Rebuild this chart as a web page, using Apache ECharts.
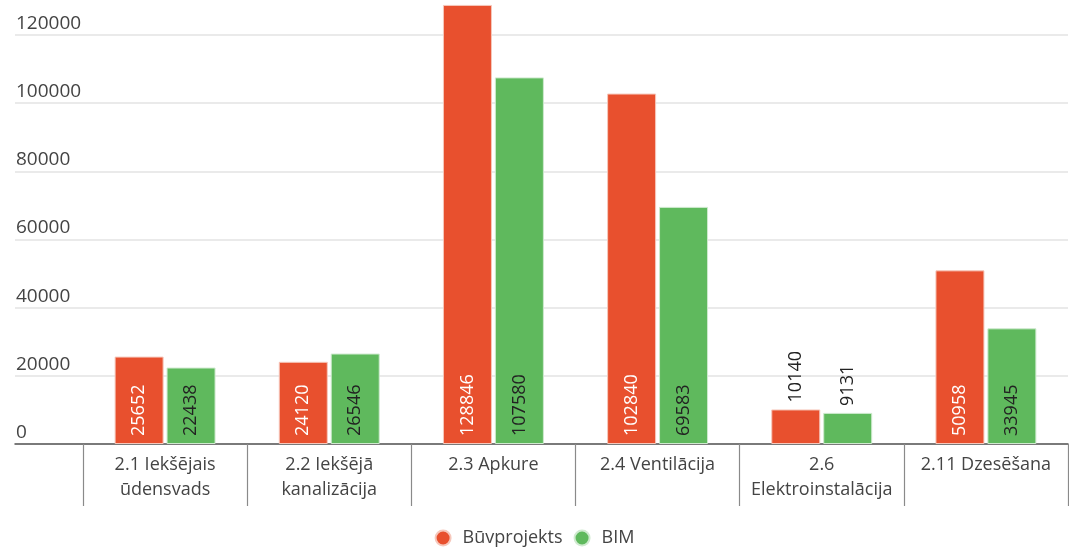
<!DOCTYPE html>
<html>
<head>
<meta charset="utf-8">
<script src="https://cdn.jsdelivr.net/npm/echarts@6/dist/echarts.min.js"></script>
<style>
  html, body { margin: 0; padding: 0; background: #fff; }
  #chart { width: 1069px; height: 554px; }
</style>
</head>
<body>
<div id="chart"></div>
<script>
const categories = [
  '2.1 Iekšējais\nūdensvads',
  '2.2 Iekšējā\nkanalizācija',
  '2.3 Apkure',
  '2.4 Ventilācija',
  '2.6\nElektroinstalācija',
  '2.11 Dzesēšana'
];
const buvprojekts = [25652, 24120, 128846, 102840, 10140, 50958];
const bim = [22438, 26546, 107580, 69583, 9131, 33945];
const seriesNames = ['Būvprojekts', 'BIM'];

const RED = '#e8502e';
const GREEN = '#5fb95d';
const FONT = '"Open Sans", sans-serif';

// small bars get their value above the bar instead of inside
function withLabels(values, insideColor) {
  return values.map((v) => {
    const outside = v < 15000;
    return {
      value: v,
      label: outside
        ? { position: 'top', distance: 7, color: '#222' }
        : { position: 'insideBottom', distance: 8, color: insideColor }
    };
  });
}

const barLabel = {
  show: true,
  rotate: 90,
  align: 'left',
  verticalAlign: 'middle',
  fontFamily: FONT,
  fontSize: 18
};

const chart = echarts.init(document.getElementById('chart'));
chart.setOption({
  animation: false,
  textStyle: { fontFamily: FONT },
  legend: {
    bottom: 2,
    icon: 'circle',
    itemWidth: 15,
    itemHeight: 15,
    itemGap: 11,
    textStyle: { color: '#444', fontSize: 18, fontFamily: FONT, padding: [0, 0, 0, 7] },
    data: seriesNames
  },
  grid: [
    { left: 15, right: 1, top: 1, bottom: 110 },
    { left: 83, right: 1, top: 1, bottom: 110 }
  ],
  xAxis: [
    {
      gridIndex: 0,
      type: 'category',
      data: [''],
      axisLine: { lineStyle: { color: '#555', width: 1.5 } },
      axisTick: { show: false },
      axisLabel: { show: false }
    },
    {
      gridIndex: 1,
      type: 'category',
      data: categories,
      axisLine: { show: true, lineStyle: { color: 'rgba(0,0,0,0)' } },
      axisTick: { show: true, interval: 0, length: 62, lineStyle: { color: '#8a8a8a', width: 1.2 } },
      axisLabel: {
        interval: 0,
        margin: 8,
        color: '#444',
        fontSize: 18,
        lineHeight: 25,
        fontFamily: FONT,
        verticalAlign: 'top'
      }
    }
  ],
  yAxis: [
    {
      gridIndex: 0,
      type: 'value',
      min: 0,
      max: 130000,
      interval: 20000,
      axisLine: { show: false },
      axisTick: { show: false },
      splitLine: { showMaxLine: false, lineStyle: { color: '#e3e3e3', width: 1.5 } },
      axisLabel: {
        inside: true,
        margin: 1,
        showMaxLabel: false,
        formatter: (v) => String(v),
        verticalAlign: 'bottom',
        padding: [0, 0, 2, 0],
        color: '#444',
        fontSize: 19,
        fontFamily: FONT
      }
    },
    { gridIndex: 1, type: 'value', min: 0, max: 130000, show: false }
  ],
  series: [
    {
      name: seriesNames[0],
      type: 'bar',
      xAxisIndex: 1,
      yAxisIndex: 1,
      barWidth: 49,
      barGap: '6%',
      itemStyle: { color: RED, borderColor: '#f6c8bc', borderWidth: 1 },
      label: barLabel,
      data: withLabels(buvprojekts, '#fff')
    },
    {
      name: seriesNames[1],
      type: 'bar',
      xAxisIndex: 1,
      yAxisIndex: 1,
      barWidth: 49,
      barGap: '6%',
      itemStyle: { color: GREEN, borderColor: '#cfeacf', borderWidth: 1 },
      label: barLabel,
      data: withLabels(bim, '#222')
    }
  ]
});
</script>
</body>
</html>
